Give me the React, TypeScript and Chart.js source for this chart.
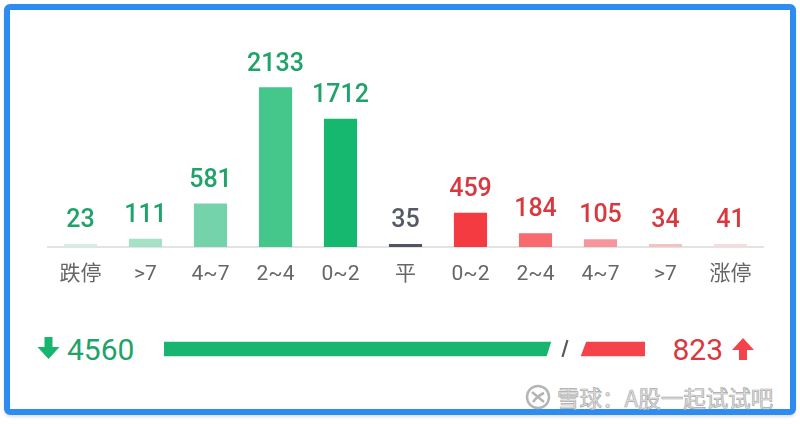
import { useEffect, useRef } from 'react'
import { Chart, registerables } from 'chart.js'
import type { Plugin } from 'chart.js'

Chart.register(...registerables)

// 涨跌分布
const categories = ['跌停', '>7', '4~7', '2~4', '0~2', '平', '0~2', '2~4', '4~7', '>7', '涨停']
const counts = [23, 111, 581, 2133, 1712, 35, 459, 184, 105, 34, 41]
const barColors = [
  '#d6efe3', '#a5e1c5', '#74d3aa', '#45c78c', '#15b86e',
  '#4f5561',
  '#f53b42', '#f76a70', '#f7969a', '#f5c2c4', '#f8dcdd',
]
const labelColors = [
  '#1fa36a', '#1fa36a', '#1fa36a', '#1fa36a', '#1fa36a',
  '#555b66',
  '#d8383f', '#d8383f', '#d8383f', '#d8383f', '#d8383f',
]

// 涨跌家数
const downCount = 4560
const upCount = 823

const FONT = "Roboto, 'Noto Sans CJK SC', sans-serif"
const GREEN = '#17b56f'
const RED = '#f4434a'

const valueLabels: Plugin<'bar'> = {
  id: 'valueLabels',
  afterDatasetsDraw(chart) {
    const { ctx } = chart
    const meta = chart.getDatasetMeta(0)
    ctx.save()
    ctx.font = `500 25px ${FONT}`
    ctx.textAlign = 'center'
    ctx.textBaseline = 'middle'
    meta.data.forEach((bar, i) => {
      ctx.fillStyle = labelColors[i]
      ctx.fillText(String(counts[i]), bar.x, bar.y - 23)
    })
    ctx.restore()
  },
}

// cut a slanted gap with a slash between the two segments
const splitCut: Plugin<'bar'> = {
  id: 'splitCut',
  afterDatasetsDraw(chart) {
    const { ctx } = chart
    const el = chart.getDatasetMeta(0).data[0] as any
    if (!el) return
    const b = chart.scales.x.getPixelForValue(downCount)
    const top = el.y - el.height / 2
    const bot = el.y + el.height / 2
    ctx.save()
    ctx.fillStyle = '#ffffff'
    ctx.beginPath()
    ctx.moveTo(b - 20, top - 1)
    ctx.lineTo(b + 15, top - 1)
    ctx.lineTo(b + 9, bot + 1)
    ctx.lineTo(b - 25, bot + 1)
    ctx.closePath()
    ctx.fill()
    ctx.strokeStyle = '#555a62'
    ctx.lineWidth = 2.2
    ctx.beginPath()
    ctx.moveTo(b - 9, bot + 1)
    ctx.lineTo(b - 4, top - 2)
    ctx.stroke()
    ctx.restore()
  },
}

function DistChart() {
  const canvasRef = useRef<HTMLCanvasElement>(null)

  useEffect(() => {
    if (!canvasRef.current) return
    const chart = new Chart(canvasRef.current, {
      type: 'bar',
      data: {
        labels: categories,
        datasets: [{
          data: counts,
          backgroundColor: barColors,
          barPercentage: 1,
          categoryPercentage: 0.51,
          minBarLength: 3,
        }],
      },
      options: {
        responsive: false,
        animation: false,
        devicePixelRatio: 1,
        layout: { padding: { left: 48, right: 37, top: 0, bottom: 0 } },
        plugins: { legend: { display: false }, tooltip: { enabled: false } },
        scales: {
          x: {
            grid: { display: false, drawTicks: false },
            border: { display: true, color: '#e3e3e3', width: 2 },
            ticks: { color: '#666666', font: { family: FONT, size: 21 }, padding: 15 },
            afterFit: (s: any) => { s.height = 53 },
          },
          y: { display: false, min: 0, max: 3300 },
        },
      },
      plugins: [valueLabels],
    })
    return () => chart.destroy()
  }, [])

  return <canvas ref={canvasRef} width={800} height={300} style={{ position: 'absolute', left: 0, top: 0, width: 800, height: 300 }} />
}

function SplitBar() {
  const canvasRef = useRef<HTMLCanvasElement>(null)

  useEffect(() => {
    if (!canvasRef.current) return
    const chart = new Chart(canvasRef.current, {
      type: 'bar',
      data: {
        labels: [''],
        datasets: [
          { data: [downCount], backgroundColor: GREEN, barThickness: 14 },
          { data: [upCount], backgroundColor: RED, barThickness: 14 },
        ],
      },
      options: {
        indexAxis: 'y',
        responsive: false,
        animation: false,
        devicePixelRatio: 1,
        layout: { padding: 0 },
        plugins: { legend: { display: false }, tooltip: { enabled: false } },
        scales: {
          x: { display: false, stacked: true, min: 0, max: downCount + upCount },
          y: { display: false, stacked: true },
        },
      },
      plugins: [splitCut],
    })
    return () => chart.destroy()
  }, [])

  return <canvas ref={canvasRef} width={481} height={28} style={{ position: 'absolute', left: 164, top: 335, width: 481, height: 28 }} />
}

export default function App() {
  return (
    <div style={{ position: 'fixed', left: 0, top: 0, width: 800, height: 424, background: '#ffffff', overflow: 'hidden', fontFamily: FONT }}>
      <div style={{
        position: 'absolute', left: 4, top: 4, width: 780, height: 399,
        border: '6px solid #2d8cf0', borderRadius: 6, boxShadow: '0 2px 3px rgba(0,0,0,0.12)',
      }} />
      <DistChart />
      <SplitBar />

      {/* 跌 */}
      <svg width={23} height={22} viewBox="0 0 22 22" style={{ position: 'absolute', left: 37, top: 337 }}>
        <path d="M7 0 H15 V10 H22 L11 22 L0 10 H7 Z" fill={GREEN} />
      </svg>
      <div style={{ position: 'absolute', left: 67, top: 330, height: 40, lineHeight: '40px', fontSize: 30, color: '#1fa36a' }}>
        {downCount}
      </div>

      {/* 涨 */}
      <div style={{ position: 'absolute', right: 800 - 723, top: 330, height: 40, lineHeight: '40px', fontSize: 30, color: '#d8383f' }}>
        {upCount}
      </div>
      <svg width={24} height={22} viewBox="0 0 22 22" style={{ position: 'absolute', left: 731, top: 338 }}>
        <path d="M7 22 H15 V12 H22 L11 0 L0 12 H7 Z" fill={RED} />
      </svg>

      {/* watermark */}
      <svg width={26} height={26} viewBox="0 0 26 26" style={{ position: 'absolute', left: 525, top: 384 }}>
        <circle cx={13} cy={13} r={11} fill="none" stroke="#b5b5b5" strokeWidth={2.5} />
        <path d="M7 8 L19 18 M8 18 C11 14 14 11 19 9" fill="none" stroke="#b5b5b5" strokeWidth={2.5} />
      </svg>
      <div style={{
        position: 'absolute', left: 557, top: 381, lineHeight: '32px', fontSize: 22.5,
        fontFamily: "'Noto Sans CJK SC', sans-serif", color: '#e6e6e6',
        WebkitTextStroke: '0.7px #a9a9a9',
      }}>
        雪球：A股一起试试吧
      </div>
    </div>
  )
}
